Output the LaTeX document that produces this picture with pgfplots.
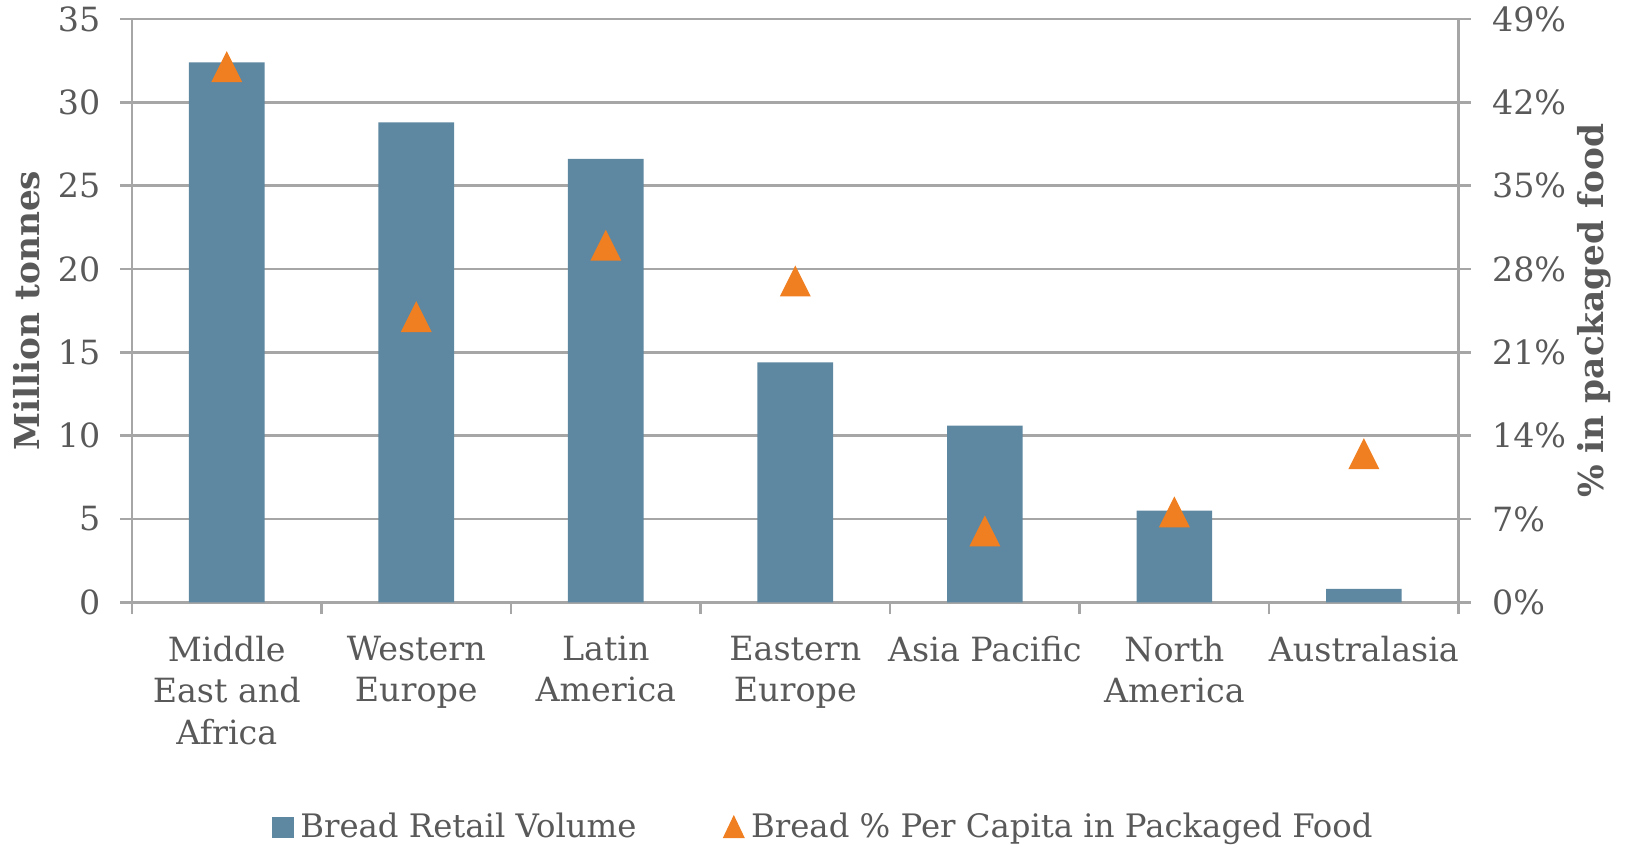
\documentclass[border=0pt]{standalone}
\usepackage{fontspec}
\setmainfont{DejaVu Serif}
\usepackage{pgfplots}
\pgfplotsset{compat=1.18}
\definecolor{barblue}{HTML}{5E87A1}
\definecolor{triorange}{HTML}{F07F21}
\definecolor{txtgray}{HTML}{595959}
\definecolor{gridgray}{HTML}{A6A6A6}
\pgfdeclareplotmark{tri}{%
  \pgfpathmoveto{\pgfqpoint{0pt}{\pgfplotmarksize}}%
  \pgfpathlineto{\pgfqpoint{-\pgfplotmarksize}{-\pgfplotmarksize}}%
  \pgfpathlineto{\pgfqpoint{\pgfplotmarksize}{-\pgfplotmarksize}}%
  \pgfpathclose\pgfusepathqfill}
\begin{document}
\fontsize{9.7}{12.5}\selectfont
\begin{tikzpicture}
\pgfplotsset{
  common/.style={
    scale only axis, width=398pt, height=175pt,
    at={(39.6pt,74pt)}, anchor=south west,
    xmin=-0.5, xmax=6.5,
    font=\fontsize{10}{12.5}\selectfont,
    /pgf/number format/assume math mode=true,
    tick label style={text=txtgray},
    label style={text=txtgray, font=\fontsize{10.3}{12}\selectfont},
    axis line style={gridgray, line width=0.8pt},
    tick style={gridgray, line width=0.8pt},
    tick align=outside,
    major tick length=3.6pt, minor tick length=3.6pt,
  }
}
\begin{axis}[common,
  axis x line*=bottom, axis y line*=left,
  ymin=0, ymax=35, ytick={0,5,...,35},
  ymajorgrids, grid style={gridgray, line width=0.8pt},
  xtick={0,1,2,3,4,5,6},
  xticklabels={{Middle\\East and\\Africa},{Western\\Europe},{Latin\\America},{Eastern\\Europe},{Asia Pacific},{North\\America},{Australasia}},
  xticklabel style={align=center, yshift=-3pt},
  yticklabel style={xshift=-2.5pt},
  major x tick style={draw=none},
  minor xtick={-0.5,0.5,1.5,2.5,3.5,4.5,5.5,6.5},
  ylabel={\textbf{Million tonnes}},
  ylabel style={yshift=-1.3pt},
  ybar, bar width=22.7pt,
]
\addplot[fill=barblue, draw=none] coordinates {(0,32.4) (1,28.8) (2,26.6) (3,14.4) (4,10.6) (5,5.5) (6,0.8)};
\end{axis}
\begin{axis}[common,
  axis x line=none, axis y line*=right,
  ymin=0, ymax=49, ytick={0,7,...,49},
  yticklabel={\pgfmathprintnumber{\tick}\%},
  yticklabel style={xshift=3pt},
  ylabel={\textbf{\% in packaged food}},
  ylabel style={yshift=3.2pt},
  legend style={at={(0.523,-0.386)}, anchor=center, draw=none, fill=none,
    text=txtgray, font=\fontsize{9.7}{12}\selectfont, legend columns=2,
    /tikz/every even column/.append style={column sep=24pt}},
]
\addlegendimage{legend image code/.code={\fill[barblue] (0pt,-3pt) rectangle (6pt,3pt);}}
\addlegendentry{Bread Retail Volume}
\addlegendimage{legend image code/.code={\fill[triorange] (0pt,-3pt) -- (6pt,-3pt) -- (3pt,3.3pt) -- cycle;}}
\addlegendentry{Bread \% Per Capita in Packaged Food}
\addplot[only marks, mark=tri, mark size=4.65pt, color=triorange, forget plot] coordinates {(0,45) (1,24) (2,30) (3,27) (4,6) (5,7.6) (6,12.5)};
\end{axis}
\pgfresetboundingbox
\path[use as bounding box] (0,0) rectangle (488.1pt,254.7pt);
\end{tikzpicture}
\end{document}
